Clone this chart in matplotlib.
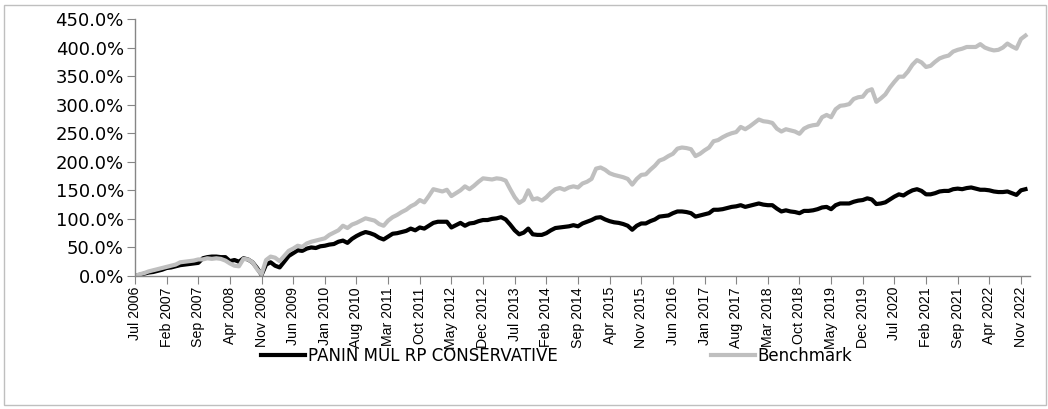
import numpy as np
import pandas as pd
import matplotlib
matplotlib.use("Agg")
import matplotlib.pyplot as plt
from matplotlib.patches import Rectangle
from matplotlib.ticker import FuncFormatter

# monthly cumulative return (%), Jul 2006 .. Dec 2022
months = pd.date_range("2006-07-01", periods=198, freq="MS").strftime("%b %Y").tolist()

fund = [
    0, 2, 4, 6, 7, 9, 11, 14, 15, 17,
    19, 20, 21, 22, 23, 31, 33, 34, 34, 33,
    33, 26, 28, 25, 31, 29, 24, 14, 2, 20,
    24, 18, 15, 25, 35, 40, 45, 44, 48, 50,
    49, 52, 53, 55, 56, 60, 62, 58, 65, 70,
    74, 77, 75, 72, 67, 64, 69, 74, 75, 77,
    79, 83, 80, 85, 83, 88, 93, 95, 95, 95,
    85, 89, 93, 88, 92, 93, 96, 98, 98, 100,
    101, 103, 99, 90, 80, 73, 76, 83, 73, 72,
    72, 75, 80, 84, 85, 86, 87, 89, 87, 92,
    95, 98, 102, 103, 99, 96, 94, 93, 91, 88,
    81, 88, 92, 92, 96, 99, 104, 105, 106, 110,
    113, 113, 112, 110, 104, 106, 108, 110, 116, 116,
    117, 119, 121, 122, 124, 121, 123, 125, 127, 125,
    124, 124, 118, 113, 115, 113, 112, 110, 114, 114,
    115, 117, 120, 121, 117, 124, 127, 127, 127, 130,
    132, 133, 136, 134, 126, 127, 129, 134, 139, 143,
    141, 146, 150, 152, 149, 143, 143, 145, 148, 149,
    149, 152, 153, 152, 154, 155, 153, 151, 151, 150,
    148, 147, 147, 148, 145, 142, 150, 152,
]

bench = [
    0, 3, 5, 8, 10, 12, 14, 16, 18, 20,
    24, 25, 26, 27, 29, 29, 31, 30, 31, 30,
    27, 22, 18, 17, 30, 29, 24, 12, 3, 28,
    34, 32, 26, 35, 44, 48, 53, 51, 57, 60,
    62, 64, 66, 72, 76, 80, 88, 84, 90, 93,
    97, 101, 99, 97, 91, 88, 97, 103, 107, 112,
    116, 122, 126, 133, 129, 140, 152, 150, 148, 151,
    140, 145, 150, 157, 152, 158, 165, 171, 170, 169,
    171, 170, 167, 152, 138, 128, 133, 150, 134, 136,
    132, 138, 146, 152, 154, 151, 155, 157, 155, 162,
    165, 170, 188, 190, 186, 180, 177, 175, 173, 170,
    160, 170, 177, 178, 186, 193, 202, 205, 210, 214,
    223, 225, 224, 222, 210, 214, 220, 225, 236, 238,
    243, 247, 250, 252, 261, 257, 262, 268, 274, 271,
    270, 268, 258, 253, 257, 255, 253, 249, 258, 262,
    264, 265, 278, 282, 278, 292, 298, 299, 301, 310,
    313, 314, 324, 327, 305, 311, 318, 330, 340, 349,
    349, 358, 370, 378, 374, 366, 368, 375, 381, 384,
    386, 393, 396, 398, 401, 401, 401, 406, 400, 397,
    395, 396, 400, 407, 402, 398, 415, 421,
]

y_ticks = list(range(0, 451, 50))
label_step = 7

fig = plt.figure(figsize=(10.48, 4.09), dpi=100)
fig.patches.append(Rectangle((4 / 1048, 4 / 409), 1042 / 1048, 400 / 409,
                             transform=fig.transFigure, fill=False,
                             edgecolor="#BFBFBF", linewidth=1.0))

ax = fig.add_axes([135 / 1048, (409 - 276) / 409, 895 / 1048, 257 / 409])
x = np.arange(len(months))
ax.plot(x, fund, color="#000000", linewidth=3.0, label="PANIN MUL RP CONSERVATIVE")
ax.plot(x, bench, color="#BFBFBF", linewidth=3.0, label="Benchmark")

ax.set_xlim(0, len(months))
ax.set_ylim(0, 450)
ax.set_yticks(y_ticks)
ax.yaxis.set_major_formatter(FuncFormatter(lambda v, _: f"{v:.1f}%"))
ax.set_xticks(x[::label_step])
ax.set_xticklabels(months[::label_step], rotation=90,
                   family="Liberation Sans", fontsize=10.2)

for side in ("top", "right"):
    ax.spines[side].set_visible(False)
for side in ("left", "bottom"):
    ax.spines[side].set_color("#868686")
    ax.spines[side].set_linewidth(1.0)
ax.tick_params(axis="both", direction="out", length=6, color="#868686",
               labelcolor="#000000")
ax.tick_params(axis="x", pad=2)
ax.tick_params(axis="y", pad=2, labelsize=13)

fig.legend(loc="center", bbox_to_anchor=(557 / 1048, 1 - 356 / 409), ncol=2,
           frameon=False, fontsize=12, handlelength=2.6, handletextpad=0.2,
           columnspacing=9.2)

fig.savefig("out.png", dpi=100)
